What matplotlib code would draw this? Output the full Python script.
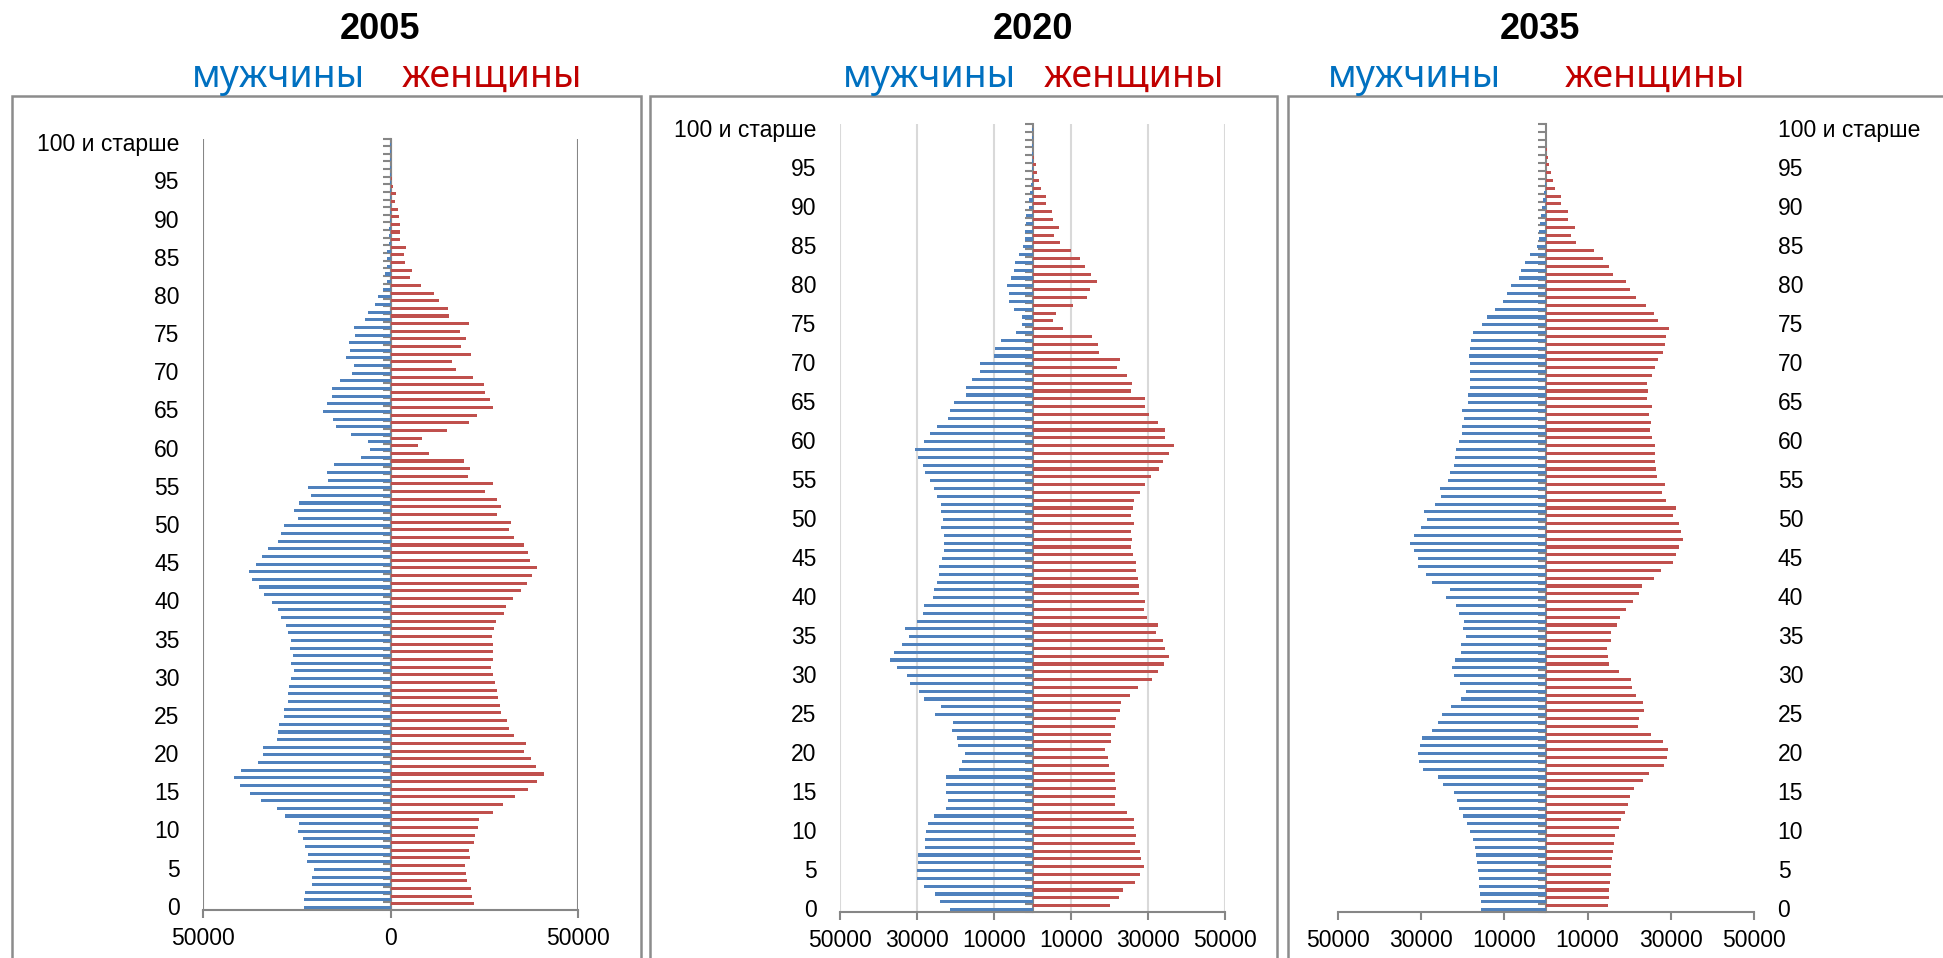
import numpy as np
import matplotlib
matplotlib.use("Agg")
import matplotlib.pyplot as plt
from matplotlib.patches import Rectangle

ages = list(range(101))
age_labels = [str(a) for a in range(0, 100, 5)] + ["100 и старше"]
years = ["2005", "2020", "2035"]

men_2005 = [23000, 23000, 22700, 20850, 20850, 20300, 22150, 21900, 22800, 23300,
            24600, 24500, 28150, 30400, 34600, 37600, 40200, 41700, 39900, 35400,
            34100, 33900, 30200, 30000, 29800, 28400, 28300, 27400, 27400, 27200,
            26650, 25800, 26550, 26100, 26750, 26550, 27400, 27850, 29100, 30000,
            31700, 33750, 35050, 37000, 37700, 35800, 34400, 32700, 30000, 29100,
            28400, 24600, 25700, 24400, 21300, 22000, 16550, 17000, 15050, 7750,
            5400, 6100, 10650, 14500, 15250, 18050, 16900, 15700, 15600, 13550,
            10300, 9700, 11950, 10750, 10950, 9450, 9800, 6900, 6000, 4100,
            3450, 2050, 1000, 1400, 850, 850, 1000, 500, 400, 300,
            200, 150, 100, 80, 50, 30, 20, 10, 10, 5, 5]
women_2005 = [22150, 21700, 21400, 20400, 20200, 19900, 21300, 21000, 22150, 22500,
              23400, 23650, 27300, 29900, 33200, 36650, 39100, 40850, 38900, 37500,
              35600, 36100, 32800, 31600, 31100, 29350, 29100, 28600, 28400, 27850,
              27300, 26800, 27200, 27200, 27300, 27100, 27700, 28050, 30200, 30850,
              32550, 34800, 36450, 37850, 39100, 37100, 36650, 35500, 32800, 31700,
              32250, 28400, 29450, 28300, 25150, 27200, 20750, 21200, 19700, 10300,
              7400, 8300, 15150, 20950, 23100, 27300, 26650, 25150, 25050, 21950,
              17400, 16450, 21500, 18900, 20200, 18400, 20950, 15700, 15250, 13000,
              11600, 8150, 5250, 5700, 3850, 3650, 4100, 2450, 2450, 2450,
              2250, 1950, 1200, 1400, 650, 300, 200, 100, 50, 30, 20]

men_2020 = [21300, 24050, 25200, 28150, 29950, 30050, 29750, 29650, 27950, 27950,
            27750, 27200, 25600, 22350, 22000, 22350, 22450, 22450, 19050, 18300,
            17450, 19250, 19500, 20950, 20650, 25400, 23850, 28150, 29550, 31750,
            32700, 35250, 37050, 36000, 33900, 32100, 33150, 29950, 28400, 28150,
            25950, 25650, 24700, 24250, 24350, 23600, 23100, 23100, 23000, 23700,
            23200, 23700, 23800, 24700, 25600, 26600, 27850, 28500, 29650, 30500,
            28300, 26700, 24800, 22000, 21500, 20350, 17250, 17250, 15800, 13750,
            13750, 9950, 9750, 8250, 4250, 2750, 2850, 4750, 6050, 6150,
            6650, 5600, 4850, 4450, 3400, 2350, 1900, 1900, 1700, 1600,
            950, 850, 550, 300, 150, 100, 50, 30, 20, 10, 10]
women_2020 = [20100, 22550, 23500, 26700, 27950, 28900, 28250, 28050, 26500, 27000,
              26350, 26350, 24650, 21400, 21400, 21800, 21300, 21300, 19900, 19600,
              18950, 20450, 20350, 21300, 21800, 22850, 23000, 25300, 27400, 31000,
              32600, 34100, 35350, 34500, 33800, 32100, 32700, 29750, 29000, 29250,
              27650, 27550, 27300, 27000, 26800, 26150, 25600, 25750, 25600, 26250,
              25600, 26150, 26350, 28050, 29100, 30700, 32850, 34000, 35350, 36850,
              34500, 34300, 32700, 30200, 29350, 29250, 25600, 25750, 24550, 21900,
              22750, 17150, 17050, 15550, 8050, 5400, 6150, 10500, 14200, 14850,
              16750, 15150, 13650, 12300, 10050, 7100, 5700, 6800, 5300, 5100,
              3600, 3600, 2100, 1700, 1150, 850, 300, 200, 100, 50, 30]

men_2035 = [15600, 15700, 15800, 16000, 16200, 16400, 16650, 16850, 17150, 17550,
            18250, 18950, 20000, 20800, 21300, 22000, 24650, 26050, 29500, 30600,
            30700, 30200, 29900, 27500, 26050, 25050, 22800, 20500, 19150, 20600,
            22100, 22600, 21800, 20400, 20500, 19150, 19850, 19750, 21000, 21600,
            23950, 23100, 27400, 28900, 30800, 30700, 31750, 32650, 31650, 30100,
            28700, 29300, 26750, 25350, 25550, 23500, 23000, 22100, 21800, 21600,
            20900, 20300, 20200, 19750, 20100, 18850, 18850, 18250, 18250, 18250,
            18250, 18450, 18150, 18050, 17650, 15500, 14100, 12250, 10350, 9400,
            8300, 6500, 5900, 4950, 3850, 2250, 1800, 1800, 1500, 1300,
            1000, 700, 500, 200, 100, 50, 30, 20, 10, 10, 5]
women_2035 = [15000, 15100, 15200, 15300, 15600, 15700, 15900, 16200, 16400, 16700,
              17450, 18050, 19050, 19750, 20300, 21200, 23200, 24850, 28300, 29000,
              29400, 28200, 25150, 22200, 22400, 23500, 23300, 21700, 20600, 20500,
              17450, 15200, 15000, 14600, 15600, 15700, 17150, 17850, 19250, 20900,
              22400, 23100, 26050, 27700, 30500, 31350, 31950, 33050, 32450, 31950,
              30600, 31200, 28800, 27800, 28600, 26650, 26550, 26150, 26150, 26150,
              25550, 24950, 25150, 24850, 25450, 24350, 24550, 24350, 25550, 26150,
              26850, 28100, 28600, 28900, 29500, 26950, 26050, 24150, 21600, 20200,
              19250, 16100, 15200, 13600, 11450, 7100, 5900, 6900, 5400, 5200,
              3650, 3650, 2250, 1700, 1200, 800, 400, 150, 80, 40, 20]

men = [men_2005, men_2020, men_2035]
women = [women_2005, women_2020, women_2035]

W, H = 1943, 958
BLUE, RED = "#4f81bd", "#c0504d"
AXIS = "#868686"
NUM_FONT = ["Liberation Sans", "DejaVu Sans"]
HEAD_FONT = ["Noto Sans", "DejaVu Sans"]

# pixel layout: (plot left, plot right, plot top, plot bottom, box left, box right, title x)
layout = [
    (203, 578, 138.5, 909.5, 12, 641, 380),
    (840, 1225, 124, 911.5, 650, 1277, 1033),
    (1338, 1754, 124, 911.5, 1288, 1960, 1540),
]
head_x = [(365, 402), (1016, 1044), (1501, 1565)]

fig = plt.figure(figsize=(W / 100, H / 100), dpi=100)

for i in range(3):
    l, r, t, b, bl, br, tx = layout[i]
    fig.patches.append(Rectangle((bl / W, -0.05), (br - bl) / W, 1.05 - 96 / H,
                                 transform=fig.transFigure, fill=False,
                                 edgecolor="#8c8c8c", linewidth=1.8))
    ax = fig.add_axes([l / W, 1 - b / H, (r - l) / W, (b - t) / H])
    y = np.array(ages)
    ax.barh(y - 0.25, -np.array(men[i]), height=0.4, color=BLUE, zorder=2)
    ax.barh(y + 0.25, women[i], height=0.4, color=RED, zorder=2)
    ax.set_xlim(-50000, 50000)
    ax.set_ylim(-0.5, 100.5)

    if i == 0:
        xt = [-50000, 0, 50000]
        ax.set_xticks(xt)
        ax.grid(axis="x", color=AXIS, linewidth=1.5, zorder=0)
    else:
        xt = [-50000, -30000, -10000, 10000, 30000, 50000]
        ax.set_xticks(xt)
        if i == 1:
            ax.grid(axis="x", color="#d9d9d9", linewidth=1.5, zorder=0)
    ax.set_xticklabels([str(abs(v)) for v in xt], fontfamily=NUM_FONT, fontsize=16.5)
    ax.tick_params(axis="x", length=5.5, width=1.5, color=AXIS, pad=7)

    ax.set_yticks(ages[::5])
    ax.set_yticklabels(age_labels, fontfamily=NUM_FONT, fontsize=16.5)
    ax.tick_params(axis="y", length=0, pad=17)
    if i == 2:
        ax.yaxis.tick_right()
        ax.tick_params(axis="y", length=0, pad=17)

    for s in ["left", "right", "top"]:
        ax.spines[s].set_visible(False)
    ax.spines["bottom"].set_color(AXIS)
    ax.spines["bottom"].set_linewidth(1.5)

    # category axis in the middle with ticks between ages
    sec = ax.secondary_yaxis(0.5)
    sec.set_alignment("left")
    sec.set_yticks(np.arange(-0.5, 101, 1))
    sec.set_yticklabels([])
    sec.tick_params(length=5.5, width=1.5, color=AXIS, direction="out")
    sec.spines["left"].set_color(AXIS)
    sec.spines["left"].set_linewidth(1.5)

    fig.text(tx / W, 1 - 29.5 / H, years[i], ha="center", va="center",
             fontsize=26, fontweight="bold", fontfamily=NUM_FONT)
    mx, fx_ = head_x[i]
    fig.text(mx / W, 1 - 87 / H, "мужчины", ha="right", va="baseline",
             fontsize=27, color="#0070c0", fontfamily=HEAD_FONT)
    fig.text(fx_ / W, 1 - 87 / H, "женщины", ha="left", va="baseline",
             fontsize=27, color="#c00000", fontfamily=HEAD_FONT)

fig.savefig("out.png", dpi=100)
